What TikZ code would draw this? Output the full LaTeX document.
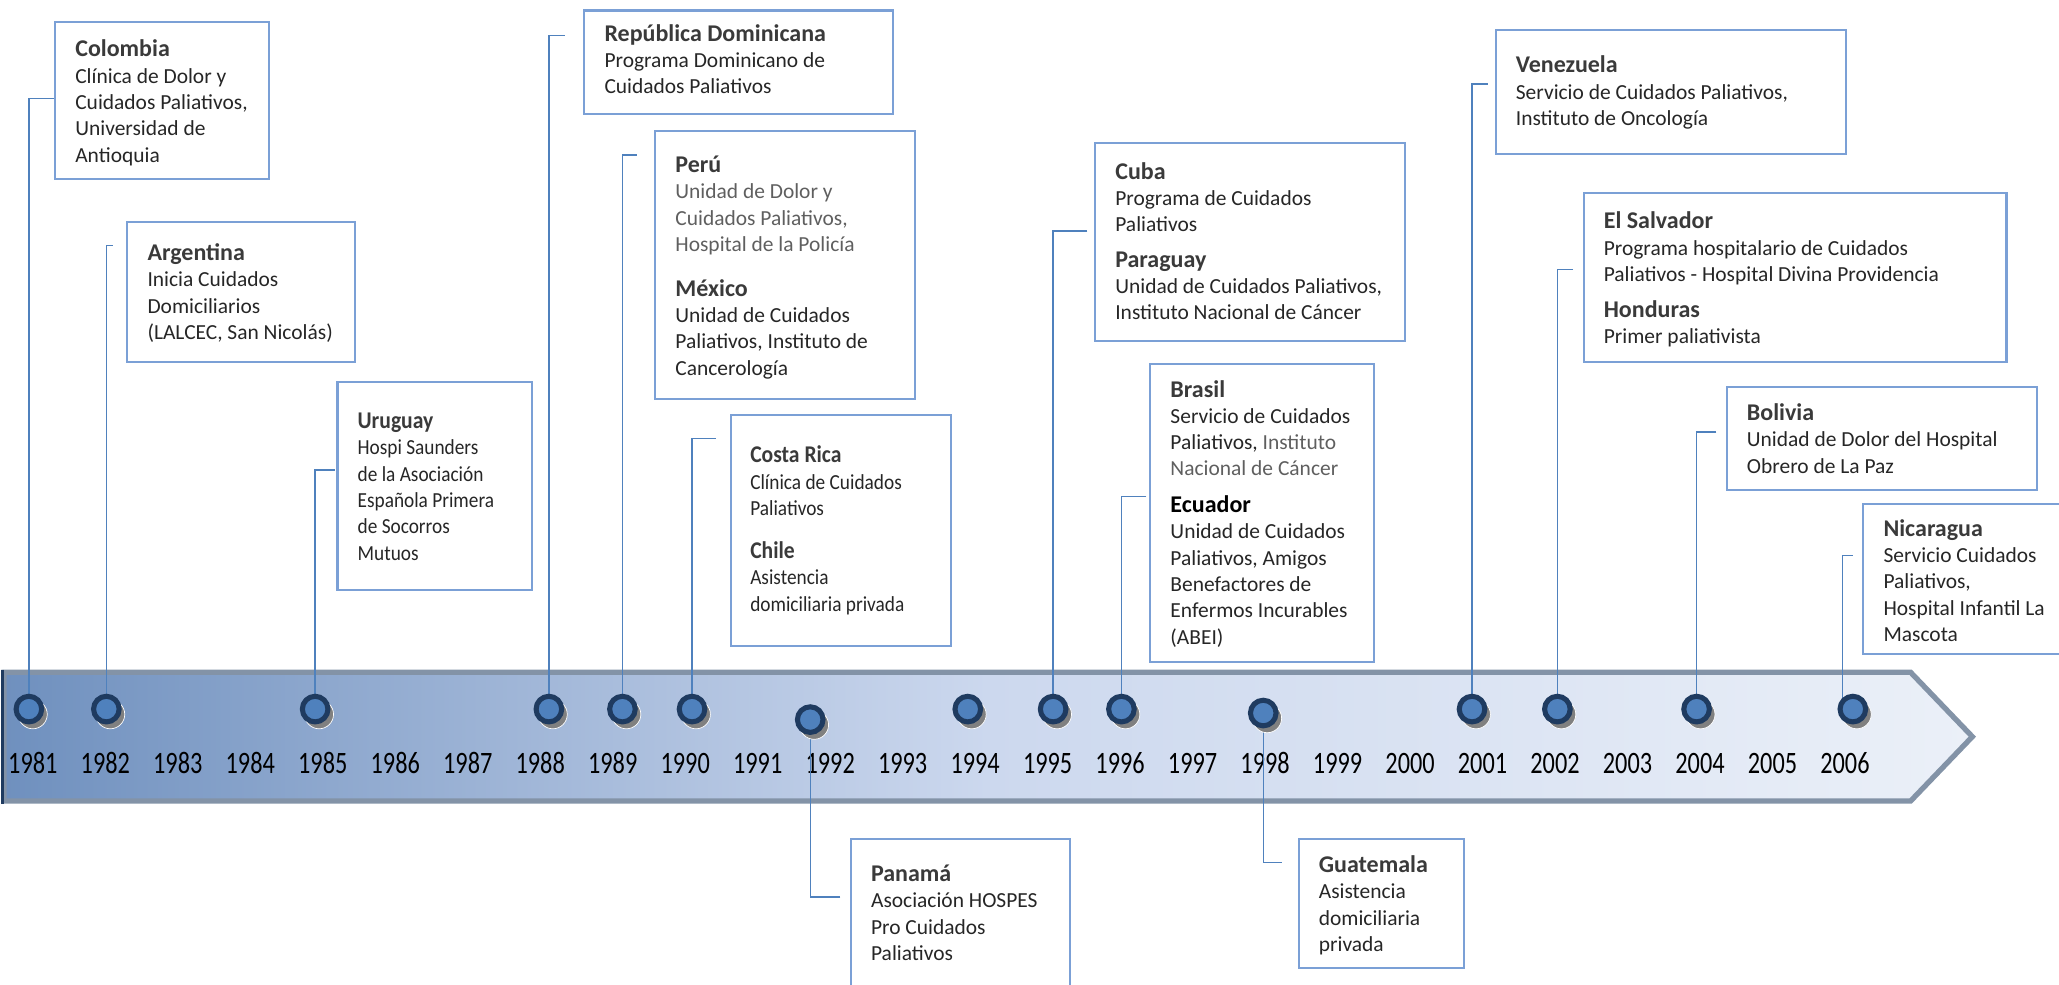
\documentclass[tikz,border=0pt]{standalone}
\usepackage{fontspec}
\setmainfont{Carlito}
\newfontfamily\yearfont{Carlito}[FakeStretch=0.78]
\newfontfamily\narrowfont{Carlito}[FakeStretch=0.9]
\usetikzlibrary{positioning, calc, fit}

\definecolor{linkblue}{HTML}{4F81BD}
\definecolor{boxblue}{HTML}{7BA0D6}
\definecolor{ringnavy}{HTML}{1F3B60}
\definecolor{dotblue}{HTML}{4F81BD}
\definecolor{bandgray}{HTML}{8393A7}
\definecolor{bandleft}{HTML}{6F90BE}
\definecolor{bandmid}{HTML}{CCD8EE}
\definecolor{bandright}{HTML}{EBF0F8}
\definecolor{headgray}{HTML}{3A3A3A}
\definecolor{bodygray}{HTML}{262626}
\definecolor{softgray}{HTML}{5F5F5F}

% country heading inside an event box (the strut fixes the top of the box)
\newcommand{\country}[2][headgray]{{\fontsize{10.4}{11.4}\selectfont\bfseries\color{#1}\strut#2}}

\begin{document}
\begin{tikzpicture}[
    x=0.02cm, y=-0.02cm, % one unit = one pixel of the layout
    % Style definitions
    event box/.style={draw=boxblue, line width=0.9pt, inner sep=0pt},
    event text/.style={anchor=north west, align=left, inner sep=0pt, text=bodygray, font=\fontsize{9.3}{11.4}\selectfont},
    narrow text/.style={event text, font=\narrowfont\fontsize{9.3}{11.4}\selectfont},
    link/.style={draw=linkblue, line width=0.6pt},
    % Timeline markers
    year dot/.style={circle, draw=ringnavy, fill=dotblue, line width=2.2pt, minimum size=0.39cm, inner sep=0pt},
    dot shadow/.style={circle, fill=black!50, draw=white, line width=0.3pt, minimum size=0.44cm, inner sep=0pt},
    year label/.style={font=\yearfont\fontsize{13.5}{14}\selectfont, text=black, anchor=base, inner sep=0pt}
]
\useasboundingbox (0,0) rectangle (1568,750);

% ==========================================
% 1. TIMELINE BAND
% ==========================================

\shade[left color=bandleft, right color=bandright, middle color=bandmid]
    (3,512) -- (1455,512) -- (1502,561) -- (1455,610) -- (3,610) -- cycle;
\draw[bandgray, line width=2.3pt, line join=miter]
    (3,512) -- (1455,512) -- (1502,561) -- (1455,610) -- (3,610) -- cycle;
\draw[ringnavy, line width=1pt] (2,510) -- (2,612);

% Year labels
\foreach \i in {0,...,25} {
    \pgfmathtruncatemacro\yr{1981+\i}
    \node[year label] (y\yr) at (25+55.2*\i, 589) {\yr};
}

% Marker positions
\foreach \yr/\px/\py in {1981/22/540, 1982/81/540, 1985/240/540, 1988/418/540,
    1989/474/540, 1990/527/540, 1992/617/548, 1994/737/540, 1995/802/540,
    1996/854/540, 1998/962/543, 2001/1121/540, 2002/1186/540, 2004/1292/540,
    2006/1411/540}
    \coordinate (p\yr) at (\px,\py);

% ==========================================
% 2. CONNECTORS
% ==========================================

\coordinate (s1981) at (42,75);
\coordinate (s1982) at (86,187);
\coordinate (s1985) at (255,358);
\coordinate (s1988) at (430,27);
\coordinate (s1989) at (485,118);
\coordinate (s1990) at (545,334);
\coordinate (s1992) at (640,683);
\coordinate (s1995) at (828,176);
\coordinate (s1996) at (873,378);
\coordinate (s1998) at (976,657);
\coordinate (s2001) at (1133,64);
\coordinate (s2002) at (1198,205);
\coordinate (s2004) at (1307,329);
\coordinate (s2006) at (1411,423);

\foreach \yr in {1981,1982,1985,1988,1989,1990,1992,1995,1996,1998,2001,2002,2004}
    \draw[link] (s\yr) -| (p\yr);
\draw[link] (s2006) -| ($(p2006)+(-8,0)$);

% Markers on the band
\foreach \yr in {1981,1982,1985,1988,1989,1990,1992,1994,1995,1996,1998,2001,2002,2004,2006} {
    \node[dot shadow] (sh\yr) at ($(p\yr)+(3,4)$) {};
    \node[year dot] (d\yr) at (p\yr) {};
}

% ==========================================
% 3. EVENT BOXES (above the band)
% ==========================================

\node[event box, fit={(42,17) (205,136)}] (colombia) {};
\node[event text] (colombiaTxt) at (57,29) {\country{Colombia}\\Clínica de Dolor y\\Cuidados Paliativos,\\Universidad de\\Antioquia};

\node[event box, fit={(97,169) (270,276)}] (argentina) {};
\node[event text] (argentinaTxt) at (112,184) {\country{Argentina}\\Inicia Cuidados\\Domiciliarios\\(LALCEC, San Nicolás)};

\node[event box, fit={(257,291) (405,449)}] (uruguay) {};
\node[narrow text] (uruguayTxt) at (272,312) {\country{Uruguay}\\Hospi Saunders\\de la Asociación\\Española Primera\\de Socorros\\Mutuos};

\node[event box, fit={(445,8) (680,87)}] (repdom) {};
\node[event text] (repdomTxt) at (460,17) {\country{República Dominicana}\\Programa Dominicano de\\Cuidados Paliativos};

\node[event box, fit={(499,100) (697,304)}] (peru) {};
\node[event text] (peruTxt) at (514,117) {\country{Perú}\\\textcolor{softgray}{Unidad de Dolor y}\\\textcolor{softgray}{Cuidados Paliativos,}\\\textcolor{softgray}{Hospital de la Policía}\\[8pt]\country{México}\\Unidad de Cuidados\\Paliativos, Instituto de\\Cancerología};

\node[event box, fit={(557,316) (724,492)}] (costarica) {};
\node[narrow text] (costaricaTxt) at (571,338) {\country{Costa Rica}\\Clínica de Cuidados\\Paliativos\\[7.4pt]\country{Chile}\\Asistencia\\domiciliaria privada};

\node[event box, fit={(834,109) (1070,260)}] (cuba) {};
\node[event text] (cubaTxt) at (849,122) {\country{Cuba}\\Programa de Cuidados\\Paliativos\\[4pt]\country{Paraguay}\\Unidad de Cuidados Paliativos,\\Instituto Nacional de Cáncer};

\node[event box, fit={(876,277) (1046,504)}] (brasil) {};
\node[event text] (brasilTxt) at (891,288) {\country{Brasil}\\Servicio de Cuidados\\Paliativos, \textcolor{softgray}{Instituto}\\\textcolor{softgray}{Nacional de Cáncer}\\[4.5pt]\country[black]{Ecuador}\\Unidad de Cuidados\\Paliativos, Amigos\\Benefactores de\\Enfermos Incurables\\(ABEI)};

\node[event box, fit={(1139,23) (1406,117)}] (venezuela) {};
\node[event text] (venezuelaTxt) at (1154,41) {\country{Venezuela}\\Servicio de Cuidados Paliativos,\\Instituto de Oncología};

\node[event box, fit={(1206,147) (1528,276)}] (elsalvador) {};
\node[event text] (elsalvadorTxt) at (1221,160) {\country{El Salvador}\\Programa hospitalario de Cuidados\\Paliativos - Hospital Divina Providencia\\[4pt]\country{Honduras}\\Primer paliativista};

\node[event box, fit={(1315,295) (1551,373)}] (bolivia) {};
\node[event text] (boliviaTxt) at (1330,306) {\country{Bolivia}\\Unidad de Dolor del Hospital\\Obrero de La Paz};

\node[event box, fit={(1419,384) (1590,498)}] (nicaragua) {};
\node[event text] (nicaraguaTxt) at (1434,394) {\country{Nicaragua}\\Servicio Cuidados\\Paliativos,\\Hospital Infantil La\\Mascota};

% ==========================================
% 4. EVENT BOXES (below the band)
% ==========================================

\node[event box, fit={(648,639) (815,770)}] (panama) {};
\node[event text] (panamaTxt) at (663,657) {\country{Panamá}\\Asociación HOSPES\\Pro Cuidados\\Paliativos};

\node[event box, fit={(989,639) (1115,737)}] (guatemala) {};
\node[event text] (guatemalaTxt) at (1004,650) {\country{Guatemala}\\Asistencia\\domiciliaria\\privada};

\end{tikzpicture}
\end{document}
